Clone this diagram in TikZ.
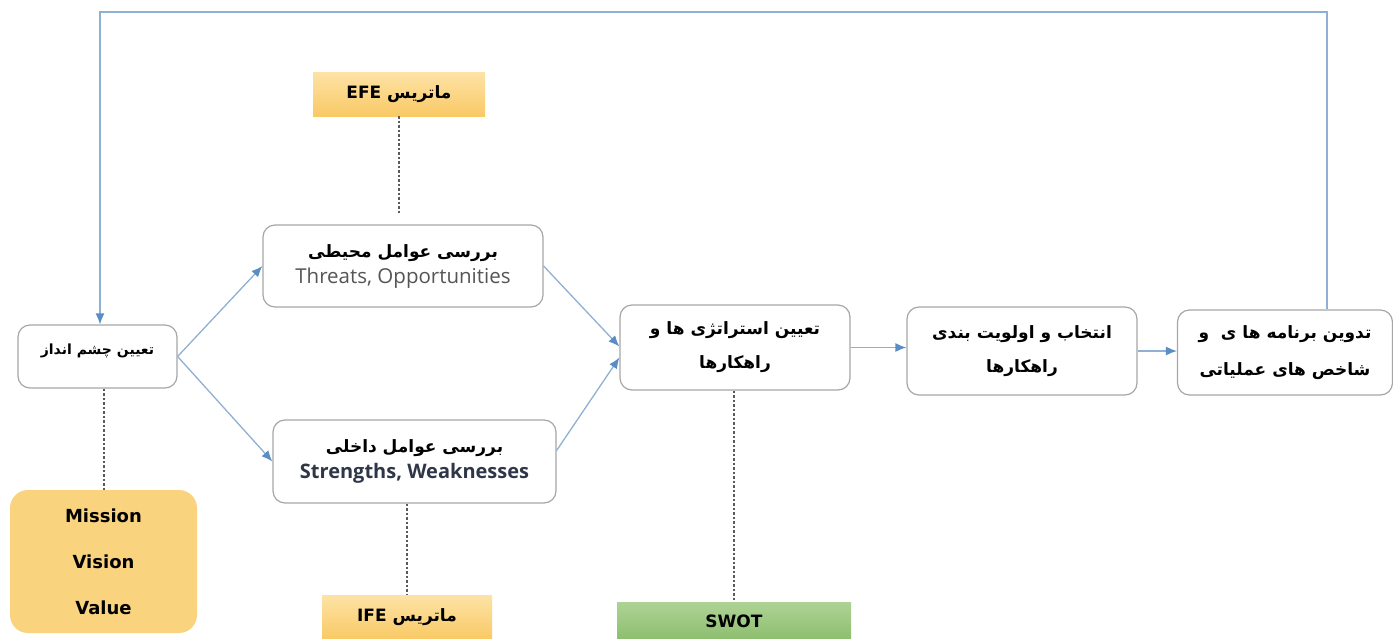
\documentclass[tikz,border=0pt]{standalone}
\usepackage{fontspec}
\usetikzlibrary{arrows.meta}
\setmainfont{Open Sans}
\newfontfamily\farsi[Script=Arabic]{DejaVu Sans}
\newfontfamily\heavy{DejaVu Sans}
\TeXXeTstate=1
\definecolor{Frame}{HTML}{A6A6A6}
\definecolor{Flow}{HTML}{8FB0D3}
\definecolor{FlowHead}{HTML}{5B8DC5}
\definecolor{Dots}{HTML}{5A5A5A}
\definecolor{SandTop}{HTML}{FDE3A6}
\definecolor{SandBottom}{HTML}{F9C965}
\definecolor{Sand}{HTML}{FAD37F}
\definecolor{LeafTop}{HTML}{AED395}
\definecolor{LeafBottom}{HTML}{8CBE6E}
\definecolor{InkGray}{HTML}{555555}
\definecolor{InkNavy}{HTML}{2E3648}
\begin{document}
\begin{tikzpicture}[x=1pt,y=-1pt,
  stage/.style={draw=Frame, line width=1.2pt, rounded corners=12pt, fill=white, align=center, inner sep=0pt},
  tool/.style={top color=SandTop, bottom color=SandBottom, inner sep=0pt, align=center},
  flow/.style={Flow, line width=1.3pt, -{Latex[length=11pt,width=9pt,color=FlowHead]}},
  link/.style={Dots, line width=1.4pt, dash pattern=on 2.5pt off 2pt},
  fa/.style={font=\farsi\bfseries\fontsize{17}{34}\selectfont}]
\useasboundingbox (0,0) rectangle (1393,638);
% main chain
\node[stage, minimum width=159, minimum height=63, font=\farsi\bfseries\fontsize{14}{16}\selectfont] (vision) at (97.5,356.5){\beginR تعیین چشم انداز\endR\\[-2pt]};
\node[stage, minimum width=280, minimum height=82, font=\fontsize{20.5}{26}\selectfont] (env) at (403,266){{\farsi\bfseries\fontsize{17}{20}\selectfont\beginR بررسی عوامل محیطی\endR}\\{\color{InkGray}Threats, Opportunities}};
\node[stage, minimum width=283, minimum height=83, font=\fontsize{20}{26}\selectfont] (inner) at (414.5,461.5){{\farsi\bfseries\fontsize{17}{20}\selectfont\beginR بررسی عوامل داخلی\endR}\\{\color{InkNavy}\bfseries Strengths, Weaknesses}};
\node[stage, minimum width=230, minimum height=85, fa] (strat) at (735,347.5){\beginR تعیین استراتژی ها و\endR\\\beginR راهکارها\endR};
\node[stage, minimum width=230, minimum height=88, fa] (select) at (1022,351){\beginR انتخاب و اولویت بندی\endR\\\beginR راهکارها\endR};
\node[stage, minimum width=215, minimum height=85, fa, font=\farsi\bfseries\fontsize{17}{37}\selectfont] (prog) at (1285,352.5){\beginR تدوین برنامه ها ی \ و\endR\\\beginR شاخص های عملیاتی\endR};
% side tools
\node[tool, minimum width=172, minimum height=44, font=\farsi\bfseries\fontsize{17}{20}\selectfont] (efe) at (399,94){\beginR ماتریس \beginL EFE\endL\endR};
\node[tool, minimum width=170, minimum height=44, font=\farsi\bfseries\fontsize{17}{20}\selectfont] (ife) at (407,617){\beginR ماتریس \beginL IFE\endL\endR};
\node[top color=LeafTop, bottom color=LeafBottom, minimum width=234, minimum height=38, inner sep=0pt, font=\heavy\bfseries\fontsize{17}{20}\selectfont] (swot) at (734,621){SWOT};
\node[fill=Sand, rounded corners=18pt, minimum width=187, minimum height=143, align=center, inner sep=0pt, font=\heavy\bfseries\fontsize{18}{46}\selectfont] (mission) at (103.5,561.5){Mission\\Vision\\Value};
% arrows
\draw[flow] (vision.east) -- (env.west);
\draw[flow] (vision.east) -- (inner.west);
\draw[flow] (env.east) -- ([yshift=1pt]strat.west);
\draw[flow] ([yshift=11pt]inner.east) -- ([yshift=-10pt]strat.west);
\draw[flow] (strat.east) -- (strat.east -| select.west);
\draw[flow] (select.east) -- (select.east -| prog.west);
\coordinate (backR) at (1327,12);
\coordinate (backL) at (100,12);
\draw[flow] (backR |- prog.north) -- (backR) -- (backL) -- (backL |- vision.north);
% dotted links
\draw[link] (efe.south) -- ++(0,97);
\draw[link] (vision.south -| 104,0) -- (mission.north -| 104,0);
\draw[link] (inner.south -| ife.north) -- (ife.north);
\draw[link] (strat.south -| swot.north) -- (swot.north);
\end{tikzpicture}
\end{document}
